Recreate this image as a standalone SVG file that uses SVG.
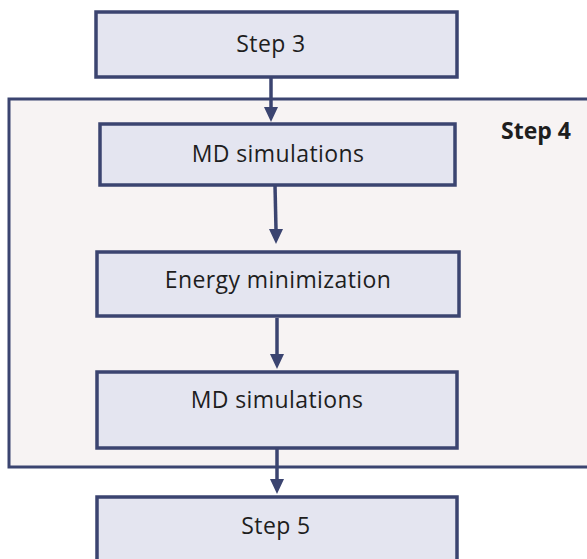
<svg xmlns="http://www.w3.org/2000/svg" width="587" height="559" viewBox="0 0 587 559">
<defs>
<style>
.box{fill:#e4e5f0;stroke:#3b4470;stroke-width:3.5}
.outer{fill:#f7f3f3;stroke:#3b4470;stroke-width:3}
.t{font-family:"Open Sans","Noto Sans",sans-serif;font-size:23px;letter-spacing:0.4px;fill:#1e1e1e;text-anchor:middle}
.tb{font-family:"Open Sans","Noto Sans",sans-serif;font-size:23px;font-weight:bold;fill:#1e1e1e}
.ln{stroke:#3b4470;stroke-width:3.5;fill:none}
.hd{fill:#3b4470}
</style>
</defs>
<rect width="587" height="559" fill="#ffffff"/>
<g id="step4">
<rect class="outer" x="9" y="99" width="590" height="368"/>
<text class="tb" x="501" y="139">Step 4</text>
</g>
<g id="step3">
<rect class="box" x="96" y="12" width="361" height="65"/>
<text class="t" x="271" y="52">Step 3</text>
</g>
<g id="md1">
<rect class="box" x="100" y="124" width="355" height="61"/>
<text class="t" x="278" y="162">MD simulations</text>
</g>
<g id="energy">
<rect class="box" x="97" y="252" width="362" height="64"/>
<text class="t" x="278" y="288">Energy minimization</text>
</g>
<g id="md2">
<rect class="box" x="97" y="372" width="360" height="76"/>
<text class="t" x="277" y="408">MD simulations</text>
</g>
<g id="step5">
<rect class="box" x="97" y="497" width="360" height="70"/>
<text class="t" x="276" y="534">Step 5</text>
</g>
<g id="connectors">
<line class="ln" x1="271" y1="77" x2="271" y2="108"/>
<polygon class="hd" points="264,107 278,107 271,122"/>
<line class="ln" x1="275" y1="185" x2="276" y2="230"/>
<polygon class="hd" points="269,229 283,229 276,244"/>
<line class="ln" x1="277" y1="318" x2="277" y2="355"/>
<polygon class="hd" points="270,354 284,354 277,369"/>
<line class="ln" x1="277" y1="448" x2="277" y2="480"/>
<polygon class="hd" points="270,479 284,479 277,494"/>
</g>
</svg>
